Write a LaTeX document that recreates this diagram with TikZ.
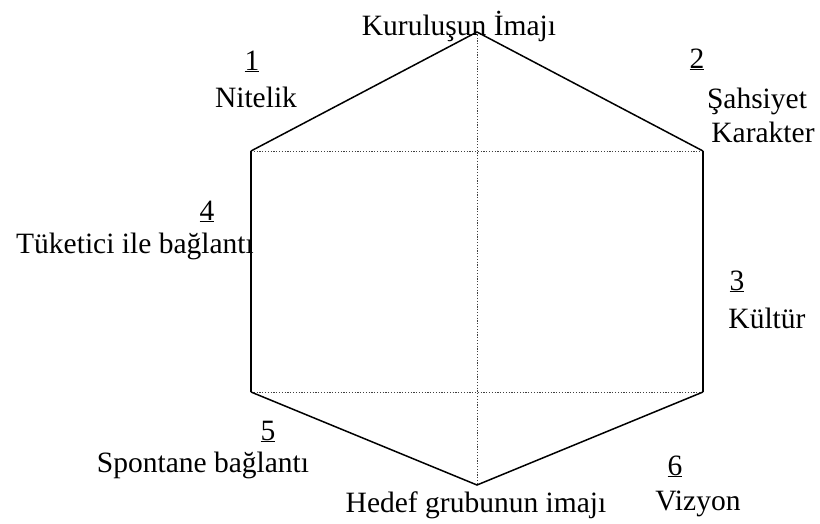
\documentclass[tikz,border=0pt]{standalone}
\usepackage{fontspec}
\setmainfont{Liberation Serif}
\begin{document}
\begin{tikzpicture}[x=1pt,y=-1pt,
  lbl/.style={inner sep=0pt,outer sep=0pt,anchor=base,font=\fontsize{29.5}{34}\selectfont},
  edge/.style={line width=1.5pt,line join=miter},
  side/.style={line width=2.2pt},
  guide/.style={line width=1pt,dash pattern=on 1.2pt off 1.6pt,black!75}]
\useasboundingbox (0,0) rectangle (820,523);
\coordinate (T) at (477,32);
\coordinate (UR) at (703,151);
\coordinate (LR) at (703,392);
\coordinate (B) at (477,485);
\coordinate (LL) at (251,392);
\coordinate (UL) at (251,151);
% dotted guides
\draw[guide] (UL) -- (UR);
\draw[guide] (LL) -- (LR);
\draw[guide] (T) -- (B);
% hexagon
\draw[edge] (UL) -- (T) -- (UR);
\draw[edge] (LL) -- (B) -- (LR);
\draw[side] (UR) -- (LR);
\draw[side] (UL) -- (LL);
% labels
\node[lbl] (top) at (459,35) {Kuruluşun İmajı};
\node[lbl] (n1) at (252,70) {\underline{1}};
\node[lbl] (t1) at (256,107) {Nitelik};
\node[lbl] (n2) at (697,68) {\underline{2}};
\node[lbl] (t2a) at (757,108) {Şahsiyet};
\node[lbl] (t2b) at (763,142) {Karakter};
\node[lbl] (n4) at (207,220) {\underline{4}};
\node[lbl] (t4) at (135,253) {Tüketici ile bağlantı};
\node[lbl] (n3) at (737,290) {\underline{3}};
\node[lbl] (t3) at (767,328) {Kültür};
\node[lbl] (n5) at (268,440) {\underline{5}};
\node[lbl] (t5) at (203,472) {Spontane bağlantı};
\node[lbl] (n6) at (675,475) {\underline{6}};
\node[lbl] (t6) at (698,510) {Vizyon};
\node[lbl] (bot) at (476,512) {Hedef grubunun imajı};
\end{tikzpicture}
\end{document}
